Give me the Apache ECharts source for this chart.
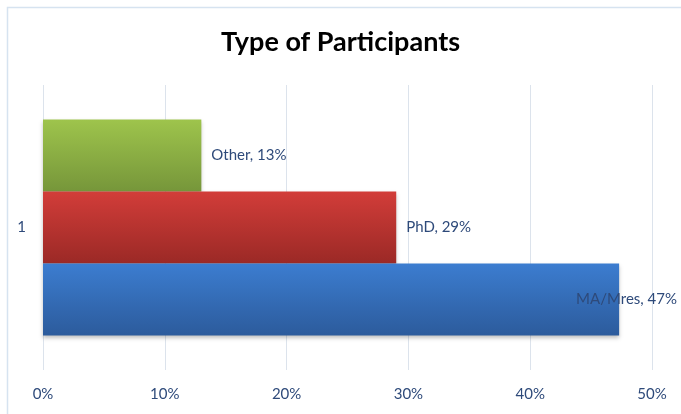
<!DOCTYPE html>
<html><head><meta charset="utf-8">
<script src="https://cdn.jsdelivr.net/npm/echarts@6/dist/echarts.min.js"></script>
<style>html,body{margin:0;padding:0;background:#fff}#c{width:681px;height:414px}</style>
</head><body><div id="c"></div>
<script>
const categories = ['1'];
const seriesNames = ['Other', 'PhD', 'MA/Mres'];
const otherValues = [13];
const phdValues = [29];
const maValues = [47.3];
const xTicks = [0, 10, 20, 30, 40, 50];

const font = 'Lato';
const labelColor = '#2E4A7A';
function grad(top, bottom) {
  return new echarts.graphic.LinearGradient(0, 0, 0, 1, [
    { offset: 0, color: top }, { offset: 1, color: bottom }
  ]);
}
function mk(name, data, top, bottom, offset) {
  return {
    name, type: 'bar', data, barWidth: 72, barGap: '0%',
    itemStyle: { color: grad(top, bottom), shadowColor: 'rgba(0,0,0,0.25)', shadowBlur: 4, shadowOffsetY: 2 },
    label: {
      show: true, position: 'right', offset: offset,
      formatter: p => p.seriesName + ', ' + Math.round(p.value) + '%',
      color: labelColor, fontFamily: font, fontSize: 15
    }
  };
}
const chart = echarts.init(document.getElementById('c'));
chart.setOption({
  animation: false,
  title: { text: 'Type of Participants', left: 'center', top: 24,
    textStyle: { fontFamily: font, fontWeight: 'bold', fontSize: 27, color: '#000' } },
  graphic: [{ type: 'rect', shape: { x: 7.5, y: 7.5, width: 680, height: 420 },
    style: { fill: null, stroke: '#D6E3F0', lineWidth: 1.5 } }],
  grid: { left: 43, right: 29, top: 85, bottom: 44 },
  xAxis: { type: 'value', min: 0, max: 50, interval: 10,
    axisLine: { show: false }, axisTick: { show: false },
    axisLabel: { formatter: '{value}%', color: labelColor, fontFamily: font, fontSize: 15, margin: 17 },
    splitLine: { lineStyle: { color: '#DCE3EC' } } },
  yAxis: { type: 'category', data: categories,
    axisLine: { show: false }, axisTick: { show: false },
    axisLabel: { color: labelColor, fontFamily: font, fontSize: 15, margin: 17 } },
  series: [
    mk(seriesNames[0], otherValues, '#9EC44C', '#76963A', [5, 0]),
    mk(seriesNames[1], phdValues, '#D23D39', '#9B2926', [5, 0]),
    mk(seriesNames[2], maValues, '#3C7DD0', '#2C5B9C', [-48, 0])
  ]
});
</script></body></html>
